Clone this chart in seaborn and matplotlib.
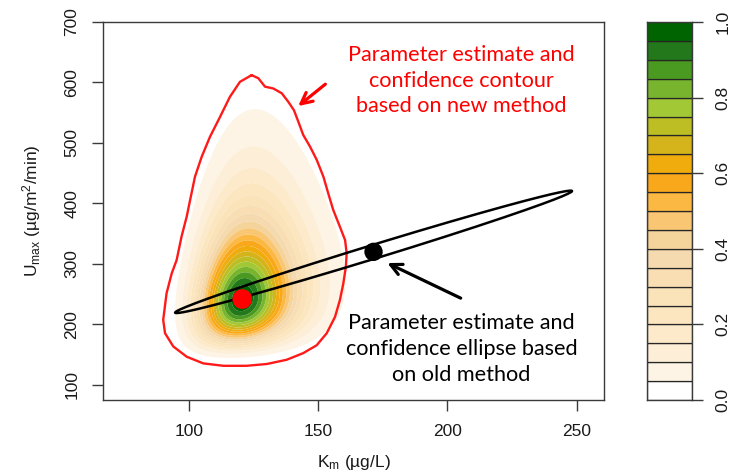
import numpy as np
import matplotlib
matplotlib.use("Agg")
import matplotlib.pyplot as plt
import seaborn as sns
import pandas as pd

# ---------------- data ----------------
# new method: posterior density surface (normalised to 1 at the peak)
new_estimate_km = 120.6
new_estimate_umax = 241.5
outer_level = 0.05
outer_km = [94.0, 159.0]        # Km extent of the 0.05 density contour
outer_umax = [143.0, 546.0]     # Umax extent of the 0.05 density contour
km_shift = 46.0                 # skew offsets of the surface
umax_shift = 100.0
km_umax_corr = 0.15

# red confidence contour (new method)
contour_km = [124.2, 126.8, 129.4, 132.6, 135.9, 138.4, 140.6, 142.3, 144.2, 146.8,
              149.4, 152.0, 153.9, 155.8, 158.4, 160.4, 161.0, 160.7, 159.7, 158.4,
              156.5, 153.3, 149.4, 144.2, 137.8, 130.1, 122.3, 113.3, 105.5, 99.1,
              93.9, 90.7, 90.0, 91.3, 93.3, 95.2, 97.1, 99.1, 100.4, 102.3,
              104.9, 108.1, 112.0, 115.8, 119.7, 124.2]
contour_umax = [612, 607, 593, 590, 582, 568, 554, 535, 513, 494,
                472, 444, 416, 389, 361, 339, 317, 295, 267, 240,
                212, 185, 165, 152, 141, 134, 131, 131, 135, 146,
                163, 185, 207, 251, 284, 306, 345, 378, 405, 444,
                477, 510, 543, 576, 601, 612]

# old method: estimate and confidence ellipse
old_estimate_km = 171.4
old_estimate_umax = 319.6
old_sd_km = 76.8
old_sd_umax = 101.3
old_corr = 0.993

# colour scale
levels = [0.00, 0.05, 0.10, 0.15, 0.20, 0.25, 0.30, 0.35, 0.40, 0.45, 0.50,
          0.55, 0.60, 0.65, 0.70, 0.75, 0.80, 0.85, 0.90, 0.95, 1.00]
level_colors = ["#ffffff", "#fdf4e5", "#fdefd7", "#fdeacb", "#fce6c0", "#fae2b9",
                "#f8deb2", "#f5dab0", "#f5d49c", "#f9c673", "#fbb944", "#f8a81a",
                "#f0ac0c", "#d4b41a", "#bcbe24", "#a2c836", "#78b42e", "#4a9a22",
                "#22781a", "#006400"]

x_ticks = [100, 150, 200, 250]
y_ticks = [100, 200, 300, 400, 500, 600, 700]
cbar_ticks = [0.0, 0.2, 0.4, 0.6, 0.8, 1.0]

red_text = "Parameter estimate and\nconfidence contour\nbased on new method"
black_text = "Parameter estimate and\nconfidence ellipse based\non old method"
x_label = "K$_{\\mathregular{m}}$ (\u00b5g/L)"
y_label = "U$_{\\mathregular{max}}$ (\u00b5g/m$^{\\mathregular{2}}$/min)"

# ---------------- style ----------------
sns.set_theme(style="white")
plt.rcParams["font.family"] = ["Liberation Sans", "DejaVu Sans"]
plt.rcParams["mathtext.fontset"] = "custom"
plt.rcParams["mathtext.rm"] = "Liberation Sans"
plt.rcParams["mathtext.it"] = "Liberation Sans:italic"
edge = "#3a3a3a"

W, H = 742, 474
fig = plt.figure(figsize=(W / 100, H / 100), dpi=100)
ax = fig.add_axes([103 / W, (H - 400) / H, 501 / W, 378 / H])
cax = fig.add_axes([647 / W, (H - 400) / H, 45 / W, 378 / H])

xlim = (66.7, 260.6)
ylim = (74.4, 700)

# ---------------- density surface ----------------
kg = np.linspace(xlim[0], xlim[1], 500)
ug = np.linspace(ylim[0], ylim[1], 700)
KK, UU = np.meshgrid(kg, ug)
valid = UU > umax_shift + 0.5
w = np.log(KK - km_shift)
z = np.log(np.where(valid, UU - umax_shift, 1.0))
w0 = np.log(new_estimate_km - km_shift)
z0 = np.log(new_estimate_umax - umax_shift)
r_out = np.sqrt(-2.0 * np.log(outer_level))
sw = (np.log(outer_km[1] - km_shift) - np.log(outer_km[0] - km_shift)) / 2 / r_out
sz = (np.log(outer_umax[1] - umax_shift) - np.log(outer_umax[0] - umax_shift)) / 2 / r_out
dw = (w - w0) / sw
dz = (z - z0) / sz
rho = km_umax_corr
q = (dw ** 2 - 2 * rho * dw * dz + dz ** 2) / (1 - rho ** 2)
dens = np.where(valid, np.exp(-0.5 * q), 0.0)
dens = dens / dens.max()

ax.contourf(KK, UU, dens, levels=levels, colors=level_colors, antialiased=True)

# red confidence contour
sns.lineplot(x=contour_km, y=contour_umax, sort=False, estimator=None,
             color="#ff1a1a", lw=1.7, ax=ax)

# old-method ellipse
t = np.linspace(0, 2 * np.pi, 600)
ell_km = old_estimate_km + old_sd_km * np.cos(t)
ell_u = old_estimate_umax + old_sd_umax * (old_corr * np.cos(t) +
                                           np.sqrt(1 - old_corr ** 2) * np.sin(t))
sns.lineplot(x=ell_km, y=ell_u, sort=False, estimator=None, color="black", lw=1.8, ax=ax)

# estimates
pts = pd.DataFrame({"Km": [new_estimate_km, old_estimate_km],
                    "Umax": [new_estimate_umax, old_estimate_umax],
                    "method": ["new", "old"]})
sns.scatterplot(data=pts, x="Km", y="Umax", hue="method",
                palette={"new": "#ff0000", "old": "black"},
                size="method", sizes={"new": 200, "old": 175},
                edgecolor="none", legend=False, ax=ax, zorder=5)

# annotations
ax.annotate("", xy=(141.4, 558), xytext=(153.6, 600),
            arrowprops=dict(arrowstyle="->", color="#ff0000", lw=2.3, mutation_scale=20))
ax.annotate("", xy=(175.8, 303), xytext=(206.1, 241),
            arrowprops=dict(arrowstyle="->", color="black", lw=2.3, mutation_scale=20))
ax.text(205.4, 603, red_text, color="#ff0000", ha="center", va="center",
        fontsize=15.6, family=["Lato", "DejaVu Sans"], linespacing=1.36)
ax.text(205.4, 159, black_text, color="black", ha="center", va="center",
        fontsize=15.6, family=["Lato", "DejaVu Sans"], linespacing=1.38)

# axes styling
ax.set_xlim(*xlim)
ax.set_ylim(*ylim)
ax.set_xticks(x_ticks)
ax.set_xticklabels([str(v) for v in x_ticks])
ax.set_yticks(y_ticks)
ax.set_yticklabels([str(v) for v in y_ticks], rotation=90, va="center")
ax.tick_params(axis="both", direction="out", length=8, width=1.0, color=edge,
               labelsize=12.5, labelcolor="#1a1a1a", pad=9,
               bottom=True, left=True)
for lab in ax.get_xticklabels() + ax.get_yticklabels():
    lab.set_family(["Liberation Sans", "DejaVu Sans"])
ax.set_xlabel("")
ax.set_ylabel("")
for s in ax.spines.values():
    s.set_visible(True)
    s.set_color(edge)
    s.set_linewidth(1.0)

fig.text(353.5 / W, 1 - 463 / H, x_label, ha="center", va="center",
         fontsize=12.5, color="#1a1a1a")
fig.text(32 / W, 1 - 211 / H, y_label, ha="center", va="center", rotation=90,
         fontsize=12.5, color="#1a1a1a")

# colour bar
cax.bar(x=[0.5] * (len(levels) - 1), height=np.diff(levels), bottom=levels[:-1],
        width=1.0, color=level_colors, edgecolor="#262626", linewidth=0.9)
cax.set_xlim(0, 1)
cax.set_ylim(0, 1)
cax.set_xticks([])
cax.yaxis.tick_right()
cax.set_yticks(cbar_ticks)
cax.set_yticklabels([f"{v:.1f}" for v in cbar_ticks], rotation=90, va="center")
cax.tick_params(axis="y", direction="out", length=8, width=1.0, color=edge,
                labelsize=12.5, labelcolor="#1a1a1a", pad=9, right=True, left=False)
for lab in cax.get_yticklabels():
    lab.set_family(["Liberation Sans", "DejaVu Sans"])
for s in cax.spines.values():
    s.set_visible(True)
    s.set_color(edge)
    s.set_linewidth(1.0)

fig.savefig("out.png", dpi=100)
